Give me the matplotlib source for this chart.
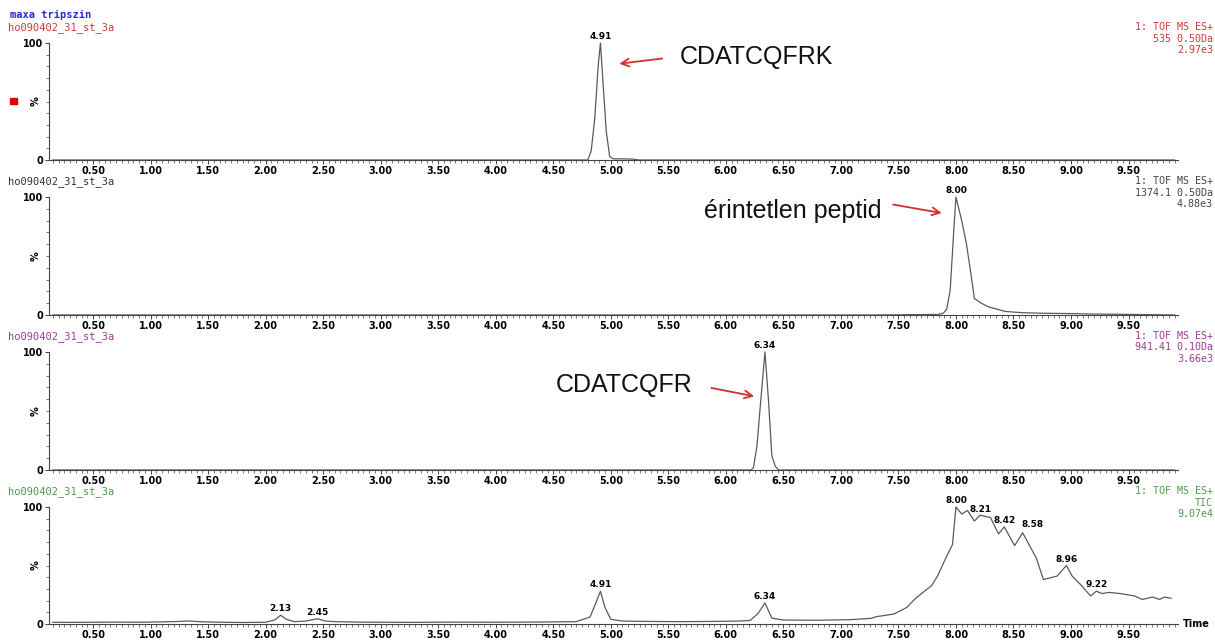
import matplotlib
matplotlib.use("Agg")
import matplotlib.pyplot as plt
from matplotlib.ticker import MultipleLocator, FixedLocator, FormatStrFormatter
from matplotlib.patches import Rectangle

# ---- data (retention time in min, relative intensity in %) ----
t_535 = [0.15, 4.78, 4.80, 4.83, 4.86, 4.89, 4.91, 4.93, 4.96, 4.99, 5.02, 5.10, 5.18, 5.25, 9.90]
i_535 = [0, 0, 0, 8, 35, 80, 100, 70, 25, 3, 1, 1, 0.8, 0, 0]

t_1374 = [0.15, 7.30, 7.85, 7.89, 7.92, 7.95, 7.98, 8.00, 8.05, 8.09, 8.13, 8.16,
          8.22, 8.28, 8.43, 8.57, 8.75, 9.00, 9.20, 9.50, 9.90]
i_1374 = [0, 0, 0.5, 1.5, 5, 21, 70, 100, 80, 61, 35, 14, 10, 7, 3, 2, 1.5, 1.2, 0.8, 0.5, 0]

t_941 = [0.15, 6.22, 6.24, 6.27, 6.30, 6.34, 6.37, 6.40, 6.43, 6.46, 9.90]
i_941 = [0, 0, 2, 20, 55, 100, 60, 12, 3, 0, 0]

t_tic = [0.15, 0.30, 0.50, 0.70, 0.90, 1.10, 1.25, 1.33, 1.42, 1.60, 1.80, 2.00, 2.08,
         2.13, 2.18, 2.25, 2.35, 2.45, 2.52, 2.60, 2.80, 3.00, 3.30, 3.60, 4.00, 4.40,
         4.70, 4.82, 4.87, 4.91, 4.95, 5.00, 5.10, 5.30, 5.60, 5.90, 6.10, 6.21, 6.28,
         6.34, 6.40, 6.50, 6.80, 7.08, 7.26, 7.31, 7.46, 7.57, 7.65, 7.79, 7.84, 7.91,
         7.97, 8.00, 8.05, 8.10, 8.16, 8.21, 8.30, 8.37, 8.42, 8.51, 8.58, 8.70, 8.76,
         8.88, 8.96, 9.01, 9.09, 9.17, 9.22, 9.27, 9.33, 9.43, 9.55, 9.62, 9.71, 9.77,
         9.81, 9.87]
i_tic = [1.5, 1.4, 1.5, 1.6, 1.5, 1.8, 2.2, 2.6, 2.0, 1.5, 1.3, 1.5, 3.5,
         7.5, 4.0, 2.0, 2.5, 4.5, 2.5, 2.0, 1.6, 1.5, 1.4, 1.6, 1.5, 1.7,
         2.0, 6, 18, 28, 14, 4, 2.5, 2.2, 2.0, 2.2, 2.5, 3, 9,
         18, 5, 3.4, 3.2, 3.7, 4.8, 6.3, 8.5, 14, 22, 33, 41, 56,
         68, 100, 94, 97, 88, 93, 91, 77, 83, 67, 78, 56, 38,
         41, 50, 41, 33, 24, 28, 26, 27, 26, 24, 21, 23, 21,
         23, 22]

peaks_535 = [4.91]
peaks_1374 = [8.00]
peaks_941 = [6.34]
peaks_tic = [2.13, 2.45, 4.91, 6.34, 8.00, 8.21, 8.42, 8.58, 8.96, 9.22]

headers = ["ho090402_31_st_3a"] * 4
header_colors = ["#cc3a3a", "#333333", "#9a3c96", "#4e9a4e"]
right_info = [["1: TOF MS ES+", "535 0.50Da", "2.97e3"],
              ["1: TOF MS ES+", "1374.1 0.50Da", "4.88e3"],
              ["1: TOF MS ES+", "941.41 0.10Da", "3.66e3"],
              ["1: TOF MS ES+", "TIC", "9.07e4"]]
right_colors = ["#cc3a3a", "#444444", "#9a3c96", "#4e9a4e"]

series = [(t_535, i_535, peaks_535), (t_1374, i_1374, peaks_1374),
          (t_941, i_941, peaks_941), (t_tic, i_tic, peaks_tic)]

W, H = 1215, 640
fig = plt.figure(figsize=(W / 100, H / 100), dpi=100)
fig.patch.set_facecolor("white")

# axis geometry in pixels: (top of 100 %, y of 0 %)
geo = [(43, 160), (197, 315), (352, 470), (507, 624)]
x0_px, x1_px = 49, 1178
XMIN, XMAX = 0.117, 9.93

TRACE = "#5a5a5a"
AX = "#444444"
mono = "DejaVu Sans Mono"

axes = []
for k, ((top, bot), (t, v, pk)) in enumerate(zip(geo, series)):
    ax = fig.add_axes([x0_px / W, 1 - bot / H, (x1_px - x0_px) / W, (bot - top) / H])
    ax.plot(t, v, color=TRACE, lw=0.9, clip_on=False)
    ax.set_xlim(XMIN, XMAX)
    ax.set_ylim(0, 100)
    for s in ("top", "right"):
        ax.spines[s].set_visible(False)
    for s in ("left", "bottom"):
        ax.spines[s].set_color(AX)
        ax.spines[s].set_linewidth(0.8)
    ax.xaxis.set_major_locator(FixedLocator([0.5 * j for j in range(1, 20)]))
    ax.xaxis.set_major_formatter(FormatStrFormatter("%.2f"))
    ax.xaxis.set_minor_locator(MultipleLocator(0.05))
    ax.yaxis.set_major_locator(FixedLocator([0, 100]))
    ax.yaxis.set_minor_locator(MultipleLocator(10))
    ax.tick_params(which="major", length=3, width=0.7, color=AX, pad=1,
                   labelsize=7)
    ax.tick_params(which="minor", length=2, width=0.5, color=AX)
    for lab in ax.get_xticklabels() + ax.get_yticklabels():
        lab.set_fontweight("bold")
    ax.text(-0.012, 0.5, "%", transform=ax.transAxes, rotation=90,
            fontsize=7, fontweight="bold", ha="center", va="center")

    # peak labels
    for p in pk:
        j = min(range(len(t)), key=lambda n: abs(t[n] - p))
        dx, dy = 0, 2
        if p == 8.58:
            dx, dy = 10, 4
        if p == 8.21:
            dy = 1
        ax.annotate(f"{p:.2f}", (t[j], v[j]), xytext=(dx, dy),
                    textcoords="offset pixels", ha="center", va="bottom",
                    fontsize=6.5, fontweight="bold", annotation_clip=False)

    # headers
    fig.text(8 / W, 1 - (top - 15) / H, headers[k], color=header_colors[k],
             family=mono, fontsize=7.5, ha="left", va="center")
    for n, line in enumerate(right_info[k]):
        fig.text(1213 / W, 1 - (top - 16 + 11.5 * n) / H, line, color=right_colors[k],
                 family=mono, fontsize=7.2, ha="right", va="center")
    axes.append(ax)

fig.text(10 / W, 1 - 15 / H, "maxa tripszin", color="#2a2ad0", family=mono,
         fontsize=7.5, fontweight="bold", ha="left", va="center")
fig.add_artist(Rectangle((10 / W, 1 - 104 / H), 7 / W, 6 / H,
                         transform=fig.transFigure, color="#e00000"))
axes[3].text(1.004, 0.0, "Time", transform=axes[3].transAxes, fontsize=7,
             fontweight="bold", ha="left", va="center")

# annotations
big = dict(family=["Liberation Sans", "DejaVu Sans"], fontsize=18, color="#111111")
arrow = dict(arrowstyle="->", color="#d03030", lw=1.3, mutation_scale=14)

axes[0].text(5.60, 88, "CDATCQFRK", ha="left", va="center", **big)
axes[0].annotate("", xy=(5.05, 82), xytext=(5.47, 87), arrowprops=arrow,
                 annotation_clip=False)

axes[1].text(7.35, 88, "érintetlen peptid", ha="right", va="center", **big)
axes[1].annotate("", xy=(7.90, 86), xytext=(7.43, 94), arrowprops=arrow,
                 annotation_clip=False)

axes[2].text(4.52, 72, "CDATCQFR", ha="left", va="center", **big)
axes[2].annotate("", xy=(6.27, 62), xytext=(5.85, 70), arrowprops=arrow,
                 annotation_clip=False)

fig.savefig("out.png", dpi=100, facecolor="white")
